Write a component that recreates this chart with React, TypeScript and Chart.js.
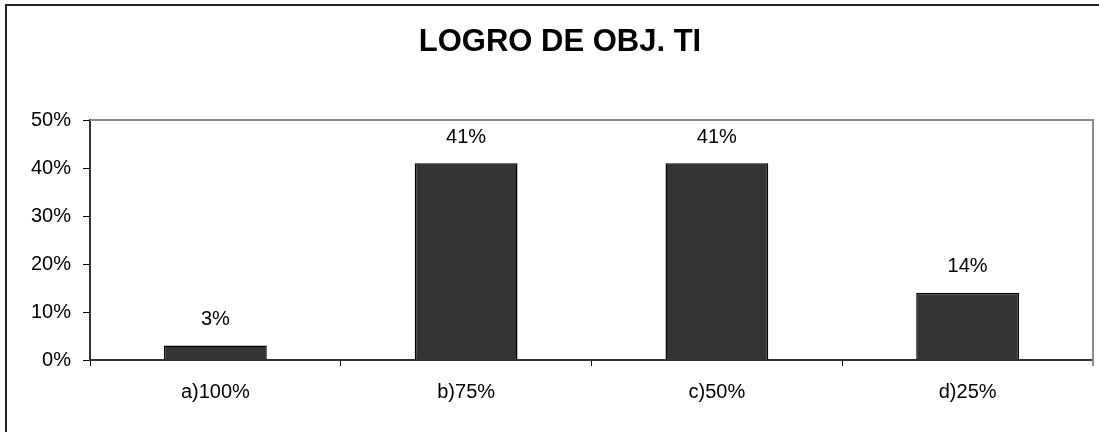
import React, { useEffect, useRef } from "react";
import { Chart, registerables } from "chart.js";

Chart.register(...registerables);

const categories = ["a)100%", "b)75%", "c)50%", "d)25%"];
const values = [3, 41, 41, 14];
const yTicks = [0, 10, 20, 30, 40, 50];
const titleText = "LOGRO DE OBJ. TI";

const FONT = "Arial, 'Liberation Sans', sans-serif";

const framePlugin = {
  id: "frame",
  beforeDatasetsDraw(chart: any) {
    const { ctx, chartArea } = chart;
    ctx.save();
    ctx.strokeStyle = "#8c8c8c";
    ctx.lineWidth = 2;
    ctx.beginPath();
    ctx.moveTo(chartArea.left, chartArea.top);
    ctx.lineTo(chartArea.right, chartArea.top);
    ctx.lineTo(chartArea.right, chartArea.bottom + 6);
    ctx.stroke();
    ctx.restore();
  },
  afterDraw(chart: any) {
    const { ctx } = chart;
    ctx.save();
    ctx.strokeStyle = "#222";
    ctx.lineWidth = 2;
    ctx.beginPath();
    ctx.moveTo(6, 440);
    ctx.lineTo(6, 5);
    ctx.lineTo(1110, 5);
    ctx.stroke();
    ctx.fillStyle = "#000";
    ctx.font = `bold 31px ${FONT}`;
    ctx.textAlign = "center";
    ctx.textBaseline = "middle";
    ctx.fillText(titleText, 560, 42);
    ctx.restore();
  },
};

const labelPlugin = {
  id: "barLabels",
  afterDatasetsDraw(chart: any) {
    const { ctx } = chart;
    const meta = chart.getDatasetMeta(0);
    ctx.save();
    ctx.fillStyle = "#000";
    ctx.font = `20px ${FONT}`;
    ctx.textAlign = "center";
    ctx.textBaseline = "middle";
    meta.data.forEach((bar: any, i: number) => {
      ctx.fillText(`${Math.round(values[i])}%`, bar.x, bar.y - 26);
    });
    ctx.restore();
  },
};

export default function App() {
  const ref = useRef<HTMLCanvasElement>(null);
  useEffect(() => {
    document.body.style.margin = "0";
    const chart = new Chart(ref.current!, {
      type: "bar",
      data: {
        labels: categories,
        datasets: [
          {
            data: values,
            backgroundColor: "#333333",
            borderColor: "#000000",
            borderWidth: 1.5,
            barPercentage: 0.82,
            categoryPercentage: 0.5,
          },
        ],
      },
      options: {
        animation: false,
        responsive: false,
        layout: { padding: { left: 0, right: 6, top: 120, bottom: 0 } },
        plugins: {
          legend: { display: false },
          tooltip: { enabled: false },
          title: { display: false },
        },
        scales: {
          x: {
            offset: true,
            grid: {
              offset: true,
              drawOnChartArea: false,
              drawTicks: true,
              tickLength: 6,
              color: "#000",
            },
            border: { color: "#333", width: 2 },
            ticks: {
              color: "#000",
              font: { family: FONT, size: 20 },
              padding: 14,
              maxRotation: 0,
            },
            afterFit(scale: any) {
              scale.height = 72;
            },
          },
          y: {
            min: 0,
            max: 50,
            afterBuildTicks(scale: any) {
              scale.ticks = yTicks.map((v) => ({ value: v }));
            },
            grid: {
              drawOnChartArea: false,
              drawTicks: true,
              tickLength: 7,
              color: "#000",
            },
            border: { color: "#333", width: 2 },
            ticks: {
              color: "#000",
              font: { family: FONT, size: 20 },
              padding: 12,
              callback: (v: any) => `${v}%`,
            },
            afterFit(scale: any) {
              scale.width = 90;
            },
          },
        },
      },
      plugins: [framePlugin, labelPlugin],
    });
    return () => chart.destroy();
  }, []);
  return (
    <div style={{ position: "absolute", left: 0, top: 0, width: 1099, height: 432, background: "#fff" }}>
      <canvas ref={ref} width={1099} height={432} style={{ display: "block" }} />
    </div>
  );
}
